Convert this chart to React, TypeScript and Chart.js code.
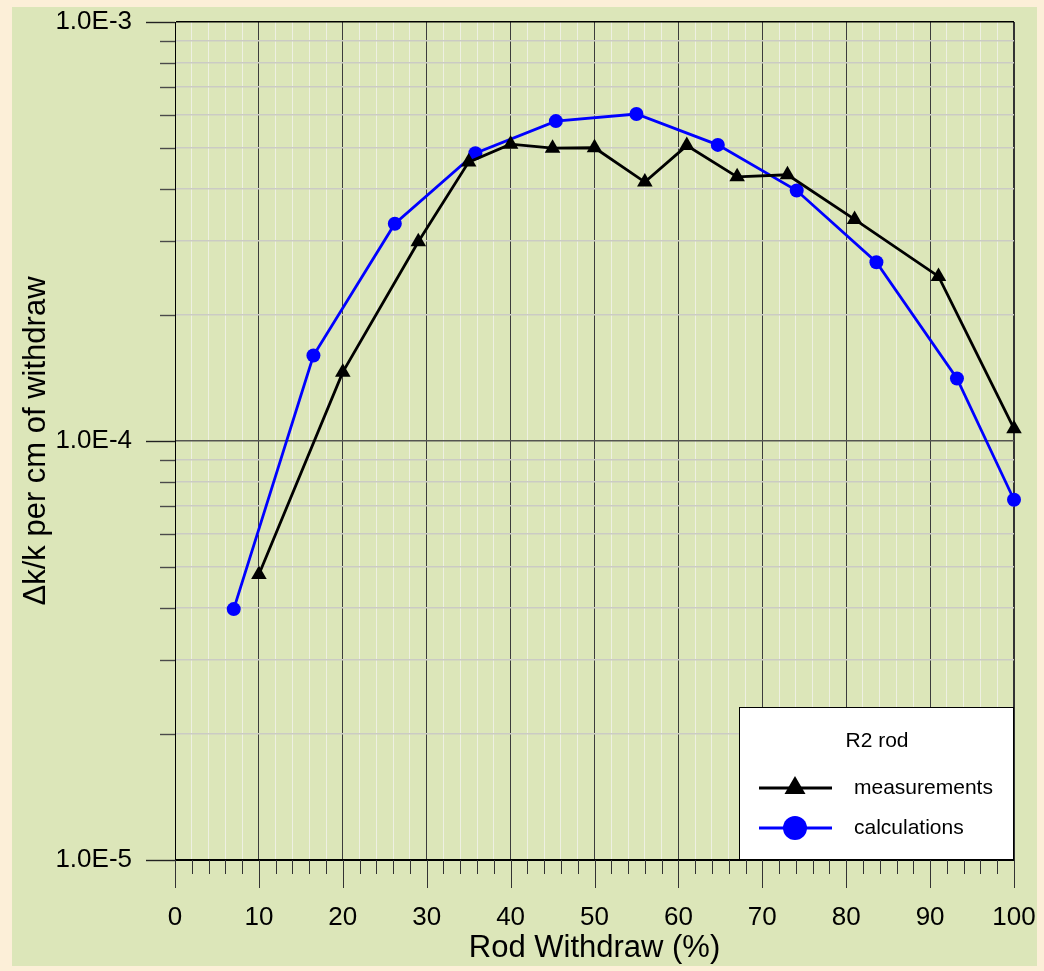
import React, { useEffect, useRef } from 'react';
import { Chart, registerables } from 'chart.js';

Chart.register(...registerables);

const FONT = '"Liberation Sans", Arial, Helvetica, sans-serif';

// ---- data ----
const measX = [10, 20, 29, 35, 40, 45, 50, 56, 61, 67, 73, 81, 91, 100];
const measY = [4.8e-5, 1.46e-4, 2.99e-4, 4.63e-4, 5.11e-4, 5.0e-4, 5.01e-4, 4.15e-4, 5.07e-4, 4.27e-4, 4.32e-4, 3.38e-4, 2.47e-4, 1.07e-4];
const calcX = [7, 16.5, 26.2, 35.8, 45.4, 55, 64.7, 74.1, 83.6, 93.2, 100];
const calcY = [3.97e-5, 1.6e-4, 3.3e-4, 4.86e-4, 5.8e-4, 6.03e-4, 5.09e-4, 3.96e-4, 2.67e-4, 1.41e-4, 7.24e-5];

const xTicks = [0, 2, 4, 6, 8, 10, 12, 14, 16, 18, 20, 22, 24, 26, 28, 30, 32, 34, 36, 38, 40, 42, 44, 46, 48, 50, 52, 54, 56, 58, 60, 62, 64, 66, 68, 70, 72, 74, 76, 78, 80, 82, 84, 86, 88, 90, 92, 94, 96, 98, 100];
const xLabelTicks = [0, 10, 20, 30, 40, 50, 60, 70, 80, 90, 100];
const yTicks = [1e-5, 2e-5, 3e-5, 4e-5, 5e-5, 6e-5, 7e-5, 8e-5, 9e-5, 1e-4, 2e-4, 3e-4, 4e-4, 5e-4, 6e-4, 7e-4, 8e-4, 9e-4, 1e-3];
const yLabelTicks = [1e-5, 1e-4, 1e-3];
const yLabels = ['1.0E-5', '1.0E-4', '1.0E-3'];

const seriesNames = ['measurements', 'calculations'];
const legendTitle = 'R2 rod';
const xTitle = 'Rod Withdraw (%)';
const yTitle = 'Δk/k per cm of withdraw';

const isXMajor = (v: number) => xLabelTicks.includes(v);
const yMajorIndex = (v: number) => yLabelTicks.findIndex((t) => Math.abs(t - v) / t < 1e-6);

const ticksPlugin = {
  id: 'outerTicks',
  afterDraw(chart: any) {
    const { ctx, chartArea, scales } = chart;
    ctx.save();
    const xs = scales.x;
    ctx.strokeStyle = '#333';
    ctx.lineWidth = 1;
    xs.ticks.forEach((t: any) => {
      const px = Math.round(xs.getPixelForValue(t.value)) + 0.5;
      const len = isXMajor(t.value) ? 28 : 14;
      ctx.beginPath();
      ctx.moveTo(px, chartArea.bottom);
      ctx.lineTo(px, chartArea.bottom + len);
      ctx.stroke();
    });
    const ys = scales.y;
    ys.ticks.forEach((t: any) => {
      const py = Math.round(ys.getPixelForValue(t.value)) + 0.5;
      const major = yMajorIndex(t.value) >= 0;
      const len = major ? 29 : 15;
      ctx.strokeStyle = major ? '#222' : '#4a4a4a';
      ctx.lineWidth = 1.4;
      ctx.beginPath();
      ctx.moveTo(chartArea.left - len, py);
      ctx.lineTo(chartArea.left, py);
      ctx.stroke();
    });
    ctx.restore();
  },
};

const legendPlugin = {
  id: 'boxLegend',
  afterDatasetsDraw(chart: any) {
    const { ctx, chartArea } = chart;
    const w = 275;
    const h = 153;
    const x0 = chartArea.right - w;
    const y0 = chartArea.bottom - h;
    ctx.save();
    ctx.fillStyle = '#ffffff';
    ctx.fillRect(x0, y0, w, h);
    ctx.strokeStyle = '#000';
    ctx.lineWidth = 1;
    ctx.strokeRect(x0 + 0.5, y0 + 0.5, w - 1, h - 1);
    ctx.fillStyle = '#000';
    ctx.font = `21px ${FONT}`;
    ctx.textAlign = 'center';
    ctx.textBaseline = 'middle';
    ctx.fillText(legendTitle, x0 + 138, y0 + 34);
    chart.data.datasets.forEach((ds: any, i: number) => {
      const y = y0 + 81 + i * 40;
      const cx = x0 + 56;
      ctx.strokeStyle = ds.borderColor;
      ctx.lineWidth = 3;
      ctx.beginPath();
      ctx.moveTo(x0 + 20, y);
      ctx.lineTo(x0 + 93, y);
      ctx.stroke();
      ctx.fillStyle = ds.pointBackgroundColor;
      ctx.beginPath();
      if (ds.pointStyle === 'triangle') {
        ctx.moveTo(cx, y - 12);
        ctx.lineTo(cx + 10.5, y + 6);
        ctx.lineTo(cx - 10.5, y + 6);
        ctx.closePath();
      } else {
        ctx.arc(cx, y, 12, 0, Math.PI * 2);
      }
      ctx.fill();
      ctx.fillStyle = '#000';
      ctx.textAlign = 'left';
      ctx.fillText(ds.label, x0 + 115, y);
    });
    ctx.restore();
  },
};

export default function App() {
  const ref = useRef<HTMLCanvasElement | null>(null);

  useEffect(() => {
    if (!ref.current) return;
    const chart = new Chart(ref.current, {
      type: 'line',
      data: {
        datasets: [
          {
            label: seriesNames[0],
            data: measX.map((x, i) => ({ x, y: measY[i] })),
            borderColor: '#000000',
            backgroundColor: '#000000',
            pointBackgroundColor: '#000000',
            pointBorderColor: '#000000',
            pointStyle: 'triangle',
            pointRadius: 9,
            pointBorderWidth: 0,
            borderWidth: 2.8,
            tension: 0,
            clip: false as any,
          },
          {
            label: seriesNames[1],
            data: calcX.map((x, i) => ({ x, y: calcY[i] })),
            borderColor: '#0000ff',
            backgroundColor: '#0000ff',
            pointBackgroundColor: '#0000ff',
            pointBorderColor: '#0000ff',
            pointStyle: 'circle',
            pointRadius: 7,
            pointBorderWidth: 0,
            borderWidth: 2.8,
            tension: 0,
            clip: false as any,
          },
        ],
      },
      options: {
        responsive: false,
        animation: false,
        devicePixelRatio: 1,
        layout: { autoPadding: false, padding: { left: 0, right: 23, top: 15, bottom: 0 } },
        plugins: {
          legend: { display: false },
          tooltip: { enabled: false },
          title: { display: false },
        },
        scales: {
          x: {
            type: 'linear',
            min: 0,
            max: 100,
            afterBuildTicks: (s: any) => {
              s.ticks = xTicks.map((v) => ({ value: v }));
            },
            afterFit: (s: any) => {
              s.height = 106;
              s.paddingLeft = 0;
              s.paddingRight = 0;
            },
            ticks: {
              autoSkip: false,
              maxRotation: 0,
              padding: 45,
              color: '#000',
              font: { family: FONT, size: 26, lineHeight: 1 },
              callback: (v: any) => (isXMajor(Number(v)) ? String(v) : ''),
            },
            grid: {
              drawTicks: false,
              color: (c: any) => {
                const v = c.tick?.value;
                if (v === 0) return '#000';
                if (v === 100) return '#333';
                if (isXMajor(v)) return '#3c3c3c';
                return '#eef0e2';
              },
              lineWidth: (c: any) => (c.tick?.value === 100 ? 2 : 1),
            },
            border: { display: true, color: '#000', width: 1 },
            title: {
              display: true,
              text: xTitle,
              color: '#000',
              font: { family: FONT, size: 31, lineHeight: 1 },
              padding: { top: 0, bottom: 2 },
            },
          },
          y: {
            type: 'logarithmic',
            min: 1e-5,
            max: 1e-3,
            afterBuildTicks: (s: any) => {
              s.ticks = yTicks.map((v) => ({ value: v }));
            },
            afterFit: (s: any) => {
              s.width = 163;
              s.paddingTop = 0;
              s.paddingBottom = 0;
            },
            ticks: {
              autoSkip: false,
              padding: 43,
              color: '#000',
              font: { family: FONT, size: 26, lineHeight: 1 },
              callback: (v: any) => {
                const k = yMajorIndex(Number(v));
                return k >= 0 ? yLabels[k] : '';
              },
            },
            grid: {
              drawTicks: false,
              color: (c: any) => {
                const v = c.tick?.value;
                const k = yMajorIndex(v);
                if (k === 0 || k === 2) return '#000';
                if (k === 1) return '#555550';
                return '#cbcbc4';
              },
              lineWidth: (c: any) => (yMajorIndex(c.tick?.value) >= 0 ? 1.5 : 1.4),
            },
            border: { display: true, color: '#000', width: 1 },
            title: {
              display: true,
              text: yTitle,
              color: '#000',
              font: { family: FONT, size: 31, lineHeight: 1 },
              padding: { top: 9, bottom: 0 },
            },
          },
        },
      },
      plugins: [ticksPlugin, legendPlugin],
    } as any);
    return () => chart.destroy();
  }, []);

  return (
    <div
      style={{
        position: 'absolute',
        left: 0,
        top: 0,
        width: 1044,
        height: 971,
        background: '#fcefd8',
        overflow: 'hidden',
      }}
    >
      <div
        style={{
          position: 'absolute',
          left: 12,
          top: 7,
          width: 1025,
          height: 959,
          background: '#dce6b9',
        }}
      >
        <canvas ref={ref} width={1025} height={959} style={{ display: 'block' }} />
      </div>
    </div>
  );
}
